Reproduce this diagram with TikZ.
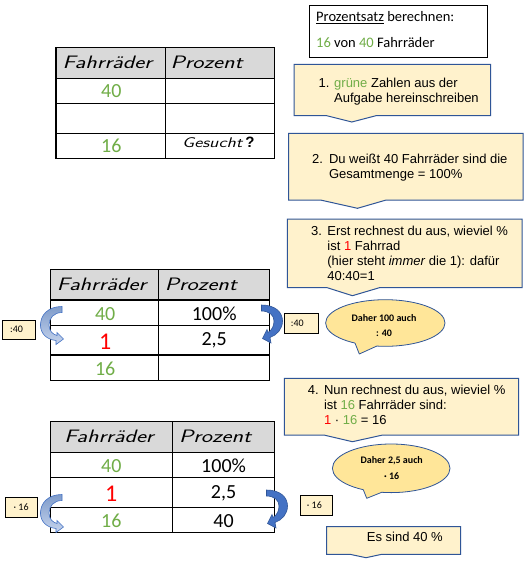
\documentclass[tikz,border=0pt]{standalone}
\usepackage{fontspec}
\usepackage{graphicx}
\setmainfont{Liberation Sans}
\newfontfamily\calib{Carlito}
\definecolor{cgreen}{HTML}{70AD47}
\definecolor{cred}{HTML}{FF0000}
\definecolor{cfill}{HTML}{FFF2CC}
\definecolor{cblue}{HTML}{2F5597}
\definecolor{ellfill}{HTML}{FFE699}
\definecolor{hdr}{HTML}{D9D9D9}
\definecolor{arrlight}{HTML}{7F9CCB}
\definecolor{arrlight2}{HTML}{C5D3EC}
\definecolor{arrdark}{HTML}{4472C4}
\definecolor{arrdark2}{HTML}{2F5597}
\newcommand\hw[2]{\scalebox{1.32}[1]{\fontsize{#1}{#1}\selectfont\sffamily\itshape #2}}
\newcommand\drawtab[8]{%
  \fill[hdr] (#1,#4) rectangle (#3,#5);
  \draw[tbl] (#1,#4) rectangle (#3,#8);
  \draw[tbl] (#2,#4) -- (#2,#8);
  \draw[tbl] (#1,#5) -- (#3,#5) (#1,#6) -- (#3,#6) (#1,#7) -- (#3,#7);
}
\newcommand\callout[8]{%
  \draw[callout] (#1,#2) -- (#3,#2) -- (#3,#4) -- (#8,#4) -- (#6,#7) -- (#5,#4) -- (#1,#4) -- cycle;
}
\newcommand\leftarr{%
  \path[larrow] (62,306.5) .. controls (48,306.5) and (40.5,315) .. (40.5,325)
    .. controls (40.5,334) and (47,339.5) .. (56,340.5)
    -- (56,344.5) -- (63.5,339) -- (57,332.5) -- (57,335.5)
    .. controls (53,334.5) and (49,331) .. (49,325)
    .. controls (49,318) and (54,312.5) .. (62,312.5) -- cycle;
}
\newcommand\rightarr{%
  \path[rarrow] (261.5,305) .. controls (275,305) and (282.5,312) .. (282.5,321)
    .. controls (282.5,329) and (277,335) .. (270,337.5)
    -- (271,343) -- (262.5,338.5) -- (267,329.5) -- (268,332.5)
    .. controls (272,330) and (274,326) .. (274,321)
    .. controls (274,315) and (269,311) .. (261.5,311) -- cycle;
}
\tikzset{
  tbl/.style={draw=black, line width=1.1pt},
  callout/.style={draw=cblue, fill=cfill, line width=1pt},
  smallbox/.style={draw=black, fill=cfill, line width=0.8pt},
  bubble/.style={draw=cblue, fill=ellfill, line width=0.8pt},
  txt/.style={inner sep=0pt, anchor=base west, font=\fontsize{13}{15}\selectfont},
  num/.style={inner sep=0pt, anchor=base, font=\calib\fontsize{20}{24}\selectfont},
  bignum/.style={num, font=\calib\fontsize{24}{28}\selectfont, text=cred},
  hdrtxt/.style={inner sep=0pt, anchor=base west},
  bubtxt/.style={inner sep=0pt, font=\calib\bfseries\fontsize{10}{12}\selectfont},
  boxtxt/.style={inner sep=0pt, anchor=west, font=\calib\fontsize{10}{12}\selectfont},
  larrow/.style={draw=arrdark, line width=0.6pt, top color=arrlight, bottom color=arrlight2},
  rarrow/.style={draw=arrdark2, line width=0.6pt, fill=arrdark},
}
\begin{document}
\begin{tikzpicture}[x=1pt,y=-1pt]
\useasboundingbox (0,0) rectangle (529,564);
\fill[white] (0,0) rectangle (529,564);

% ---------- Prozentsatz box ----------
\draw[line width=0.9pt, fill=white] (309.3,5.3) rectangle (487.5,57.3);
\node[inner sep=0pt, anchor=base west, font=\calib\fontsize{14.5}{17}\selectfont] (ps1) at (316,22) {\underline{Prozentsatz} berechnen:};
\node[inner sep=0pt, anchor=base west, font=\calib\fontsize{14.5}{17}\selectfont] (ps2) at (316,48) {{\color{cgreen}16} von {\color{cgreen}40} Fahrräder};

% ---------- callouts ----------
\callout{294}{64.3}{490.5}{115.7}{326.7}{351.8}{122}{376}
\node[txt] (c1n) at (318.5,87.2) {1.};
\node[txt] (c1t) at (334,87.2) {\parbox[t]{190pt}{\raggedright\leavevmode{\color{cgreen}grüne} Zahlen aus der\\Aufgabe hereinschreiben}};

\callout{288.7}{133.3}{523.1}{200}{320.4}{357.5}{208.3}{386.2}
\node[txt] (c2n) at (312,163.8) {2.};
\node[txt] (c2t) at (328.8,163.8) {\parbox[t]{195pt}{\raggedright Du weißt 40 Fahrräder sind die\\Gesamtmenge = 100\%}};

\callout{287.4}{219}{522.1}{287.7}{327.2}{352.4}{295.7}{379.4}
\node[txt] (c3n) at (311,235.2) {3.};
\node[txt] (c3t) at (327.2,235.2) {\parbox[t]{195pt}{\raggedright Erst rechnest du aus, wieviel \%\\ist {\color{cred}1} Fahrrad\\(hier steht \textit{immer} die 1): dafür\\40:40=1}};

\callout{284.3}{378.3}{518.7}{435}{323.8}{352.4}{441.7}{382.8}
\node[txt] (c4n) at (307.6,394.5) {4.};
\node[txt] (c4t) at (323.8,394.5) {\parbox[t]{195pt}{\raggedright Nun rechnest du aus, wieviel \%\\ist {\color{cgreen}16} Fahrräder sind:\\{\color{cred}1} · {\color{cgreen}16} = 16}};

\callout{326.7}{526.7}{460.7}{554.3}{350}{366}{557.7}{381.7}
\node[txt] (c5t) at (366.7,541.8) {Es sind 40 \%};

% ---------- speech bubbles ----------
\draw[bubble] (385.3,323) ellipse [x radius=59.7, y radius=23.3];
\fill[ellfill] (355,343.1) -- (359.3,354) -- (376.7,346.1) -- (376.7,339) -- (355,337) -- cycle;
\draw[cblue, line width=0.8pt, line join=round] (355,343.1) -- (359.3,354) -- (376.7,346.1);
\node[bubtxt] (b1a) at (384,317.7) {Daher 100 auch};
\node[bubtxt] (b1b) at (384,333.3) {: 40};

\draw[bubble] (391.2,468.3) ellipse [x radius=58.8, y radius=24.3];
\fill[ellfill] (363.3,489.7) -- (366.7,498.3) -- (381.7,492.3) -- (381.7,485) -- (363.3,484) -- cycle;
\draw[cblue, line width=0.8pt, line join=round] (363.3,489.7) -- (366.7,498.3) -- (381.7,492.3);
\node[bubtxt] (b2a) at (391.7,460.7) {Daher 2,5 auch};
\node[bubtxt] (b2b) at (391.7,475.7) {· 16};

% ---------- table 1 ----------
\drawtab{56}{165.3}{274.2}{47.3}{78.3}{103.3}{133.3}{158.3}
\node[hdrtxt] (h1a) at (62.4,68.3) {\hw{18}{Fahrräder}};
\node[hdrtxt] (h1b) at (170.3,68.3) {\hw{18}{Prozent}};
\node[num, text=cgreen] (t1a) at (111.3,98) {40};
\node[num, text=cgreen] (t1c) at (111.3,153) {16};
\node[hdrtxt] (t1g) at (182,147.3) {\hw{14}{Gesucht}\hspace{3pt}{\fontsize{15}{16}\selectfont\bfseries ?}};

% ---------- table 2 ----------
\drawtab{50.6}{158.5}{269.1}{269.3}{300}{325.7}{355}{380.3}
\node[hdrtxt] (h2a) at (56.7,290) {\hw{18}{Fahrräder}};
\node[hdrtxt] (h2b) at (164.6,290) {\hw{18}{Prozent}};
\node[num, text=cgreen] (t2a) at (105.2,320.3) {40};
\node[num] (t2b) at (214.2,320.3) {100\%};
\node[bignum] (t2c) at (105.2,349.3) {1};
\node[num] (t2d) at (214.2,345.6) {2,5};
\node[num, text=cgreen] (t2e) at (105.2,375.3) {16};
\leftarr
\rightarr
\draw[smallbox] (2.7,320) rectangle (35.4,339.3);
\node[boxtxt] (k1) at (10,329.7) {:40};
\draw[smallbox] (284.3,313.5) rectangle (318.4,333.3);
\node[boxtxt] (k2) at (290.7,323.4) {:40};

% ---------- table 3 ----------
\drawtab{50.6}{172.3}{274.2}{421.7}{452.3}{477.3}{507.3}{532.3}
\node[hdrtxt] (h3a) at (64.1,442.3) {\hw{18}{Fahrräder}};
\node[hdrtxt] (h3b) at (178.8,442.3) {\hw{18}{Prozent}};
\node[num, text=cgreen] (t3a) at (111.3,472.3) {40};
\node[num] (t3b) at (223.6,472.3) {100\%};
\node[bignum] (t3c) at (111.3,501.6) {1};
\node[num] (t3d) at (223.6,498) {2,5};
\node[num, text=cgreen] (t3e) at (111.3,527.3) {16};
\node[num] (t3f) at (223.6,527.3) {40};
\begin{scope}[shift={(0,188)}]
  \leftarr
\end{scope}
\begin{scope}[shift={(5,185)}]
  \rightarr
\end{scope}
\draw[smallbox] (5.7,497.5) rectangle (37,517.7);
\node[boxtxt] (k3) at (13.5,507.6) {· 16};
\draw[smallbox] (300.1,495.7) rectangle (332,515);
\node[boxtxt] (k4) at (306.7,505.3) {· 16};
\end{tikzpicture}
\end{document}
